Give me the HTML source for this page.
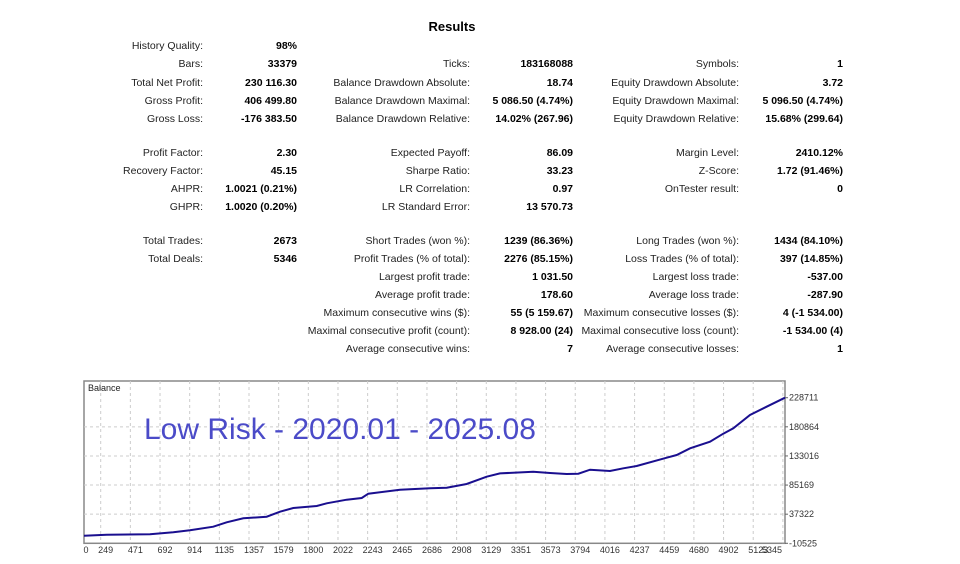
<!DOCTYPE html>
<html><head><meta charset="utf-8">
<style>
body{margin:0;background:#fff;width:960px;height:564px;position:relative;overflow:hidden;font-family:"Liberation Sans",Arial,sans-serif;}
.t{position:absolute;font-size:10.5px;color:#222;white-space:nowrap;text-align:right;line-height:14px;}
.v{font-weight:bold;color:#000;}
#title{position:absolute;left:402px;width:100px;text-align:center;top:19px;font-size:13px;font-weight:bold;}
svg text{font-family:"Liberation Sans",Arial,sans-serif;}
</style></head>
<body>
<div id="title">Results</div>
<div id="stats"></div>
<svg id="chart" width="960" height="564" style="position:absolute;left:0;top:0"></svg>
<script>
const rows=[
[46,"History Quality:","98%",null,null,null,null],
[64,"Bars:","33379","Ticks:","183168088","Symbols:","1"],
[83,"Total Net Profit:","230 116.30","Balance Drawdown Absolute:","18.74","Equity Drawdown Absolute:","3.72"],
[101,"Gross Profit:","406 499.80","Balance Drawdown Maximal:","5 086.50 (4.74%)","Equity Drawdown Maximal:","5 096.50 (4.74%)"],
[119,"Gross Loss:","-176 383.50","Balance Drawdown Relative:","14.02% (267.96)","Equity Drawdown Relative:","15.68% (299.64)"],
[153,"Profit Factor:","2.30","Expected Payoff:","86.09","Margin Level:","2410.12%"],
[171,"Recovery Factor:","45.15","Sharpe Ratio:","33.23","Z-Score:","1.72 (91.46%)"],
[189,"AHPR:","1.0021 (0.21%)","LR Correlation:","0.97","OnTester result:","0"],
[207,"GHPR:","1.0020 (0.20%)","LR Standard Error:","13 570.73",null,null],
[241,"Total Trades:","2673","Short Trades (won %):","1239 (86.36%)","Long Trades (won %):","1434 (84.10%)"],
[259,"Total Deals:","5346","Profit Trades (% of total):","2276 (85.15%)","Loss Trades (% of total):","397 (14.85%)"],
[277,null,null,"Largest profit trade:","1 031.50","Largest loss trade:","-537.00"],
[295,null,null,"Average profit trade:","178.60","Average loss trade:","-287.90"],
[313,null,null,"Maximum consecutive wins ($):","55 (5 159.67)","Maximum consecutive losses ($):","4 (-1 534.00)"],
[331,null,null,"Maximal consecutive profit (count):","8 928.00 (24)","Maximal consecutive loss (count):","-1 534.00 (4)"],
[349,null,null,"Average consecutive wins:","7","Average consecutive losses:","1"]];
const rights=[203,297,470,573,739,843];
const st=document.getElementById('stats');
rows.forEach(r=>{for(let i=0;i<6;i++){const s=r[i+1];if(s==null)continue;
const d=document.createElement('div');d.className='t'+(i%2?' v':'');
d.style.left=(rights[i]-300)+'px';d.style.width='300px';d.style.top=(r[0]-7)+'px';d.textContent=s;


st.appendChild(d);}});

const trades=[0,173,503,681,808,986,1088,1215,1393,1495,1596,1775,1851,2003,2118,2168,2410,2639,2766,2918,3071,3172,3426,3554,3681,3770,3859,4011,4113,4215,4444,4520,4622,4774,4875,4952,5079,5206,5346];
const balance=[1960,3605,4262,7550,10835,16750,23980,30550,33180,41400,47475,50760,55200,61115,63910,70975,77545,79845,80830,86910,98900,104330,107120,104990,103340,103830,110410,108270,112710,116490,130130,134560,145570,156420,169560,178430,200280,213920,228711];
const yTicks=[-10525,37322,85169,133016,180864,228711];
const xTicks=[0,249,471,692,914,1135,1357,1579,1800,2022,2243,2465,2686,2908,3129,3351,3573,3794,4016,4237,4459,4680,4902,5123,5345];
const L=84,R=785,T=381,B=543.3;
const xs=t=>L+(t/5346)*(R-L);
const ys=v=>B-(v-yTicks[0])/(yTicks[5]-yTicks[0])*(B-397.7);
const svg=document.getElementById('chart');const NS='http://www.w3.org/2000/svg';
function mk(tag,a,p){const e=document.createElementNS(NS,tag);for(const k in a)e.setAttribute(k,a[k]);(p||svg).appendChild(e);return e;}
const box=mk('rect',{x:L,y:T,width:R-L,height:B-T,fill:'#fff',stroke:'#888','stroke-width':1.5});


yTicks.forEach((v,i)=>{const y=ys(v);
if(i>0&&i<5){const g=mk('line',{x1:L,x2:R,y1:y,y2:y,stroke:'#ccc','stroke-dasharray':'3,3'});

}
mk('line',{x1:R,x2:R+3,y1:y,y2:y,stroke:'#666'});
const t=mk('text',{x:R+4,y:y+3,'font-size':9,fill:'#333'});t.textContent=v;

});
xTicks.forEach((v,i)=>{const gx=100.7+(i-1)*29.66;
if(i>0&&gx<R-2){const g=mk('line',{x1:gx,x2:gx,y1:T,y2:B,stroke:'#ccc','stroke-dasharray':'3,3'});

}
const cx=i==0?86:Math.min(gx+5,772);
const t=mk('text',{x:cx,y:553,'font-size':9,fill:'#333','text-anchor':'middle'});t.textContent=v;

});
const pl=mk('polyline',{points:trades.map((t,i)=>xs(t)+','+ys(balance[i])).join(' '),fill:'none',stroke:'#1a0f8f','stroke-width':2});


const lb=mk('text',{x:88,y:391,'font-size':9,fill:'#222'});lb.textContent='Balance';


const ov=mk('text',{x:144,y:439,'font-size':30,fill:'#4b4bc8'});ov.textContent='Low Risk - 2020.01 - 2025.08';


</script>
</body></html>
